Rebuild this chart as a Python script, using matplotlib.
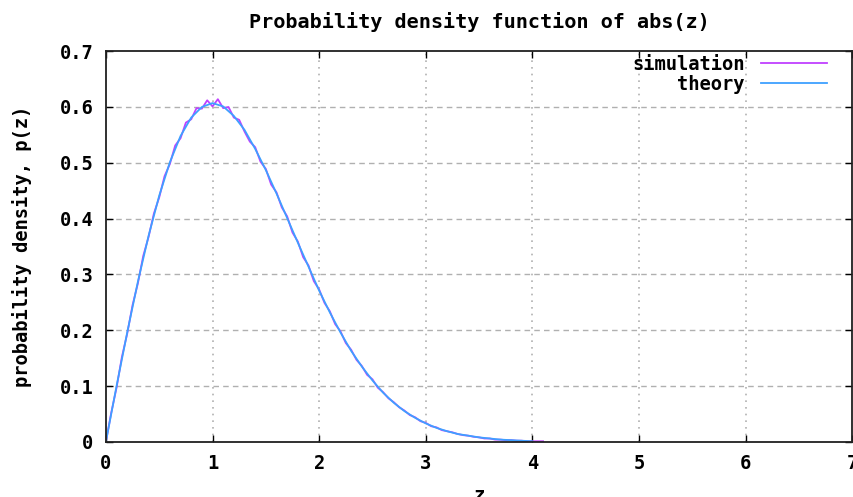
import matplotlib
matplotlib.use("Agg")
import matplotlib.pyplot as plt

# theory curve, step 0.1
z_theory = [0.0, 0.1, 0.2, 0.3, 0.4, 0.5, 0.6, 0.7, 0.8, 0.9, 1.0,
            1.1, 1.2, 1.3, 1.4, 1.5, 1.6, 1.7, 1.8, 1.9, 2.0,
            2.1, 2.2, 2.3, 2.4, 2.5, 2.6, 2.7, 2.8, 2.9, 3.0,
            3.1, 3.2, 3.3, 3.4, 3.5, 3.6, 3.7, 3.8, 3.9, 4.0]
p_theory = [0.0, 0.100, 0.196, 0.287, 0.369, 0.441, 0.501, 0.548, 0.581, 0.600, 0.607,
            0.601, 0.584, 0.559, 0.525, 0.487, 0.445, 0.401, 0.357, 0.314, 0.271,
            0.232, 0.196, 0.163, 0.135, 0.110, 0.088, 0.070, 0.055, 0.043, 0.033,
            0.025, 0.019, 0.014, 0.011, 0.008, 0.006, 0.004, 0.003, 0.002, 0.001]

# simulation histogram, step 0.05 (noisy)
z_sim = [0.00, 0.05, 0.10, 0.15, 0.20, 0.25, 0.30, 0.35, 0.40, 0.45,
         0.50, 0.55, 0.60, 0.65, 0.70, 0.75, 0.80, 0.85, 0.90, 0.95,
         1.00, 1.05, 1.10, 1.15, 1.20, 1.25, 1.30, 1.35, 1.40, 1.45,
         1.50, 1.55, 1.60, 1.65, 1.70, 1.75, 1.80, 1.85, 1.90, 1.95,
         2.00, 2.05, 2.10, 2.15, 2.20, 2.25, 2.30, 2.35, 2.40, 2.45,
         2.50, 2.55, 2.60, 2.65, 2.70, 2.75, 2.80, 2.85, 2.90, 2.95,
         3.00, 3.05, 3.10, 3.15, 3.20, 3.25, 3.30, 3.35, 3.40, 3.45,
         3.50, 3.55, 3.60, 3.65, 3.70, 3.75, 3.80, 3.85, 3.90, 3.95,
         4.00, 4.05, 4.10]
p_sim = [0.000, 0.052, 0.097, 0.152, 0.194, 0.245, 0.284, 0.333, 0.367, 0.409,
         0.438, 0.476, 0.498, 0.531, 0.544, 0.572, 0.578, 0.598, 0.597, 0.612,
         0.601, 0.614, 0.598, 0.600, 0.581, 0.577, 0.556, 0.538, 0.528, 0.502,
         0.489, 0.461, 0.447, 0.420, 0.404, 0.375, 0.359, 0.331, 0.316, 0.288,
         0.273, 0.249, 0.234, 0.211, 0.198, 0.177, 0.165, 0.147, 0.136, 0.120,
         0.112, 0.097, 0.089, 0.078, 0.071, 0.062, 0.056, 0.048, 0.044, 0.037,
         0.034, 0.028, 0.026, 0.021, 0.019, 0.017, 0.014, 0.012, 0.011, 0.009,
         0.008, 0.006, 0.006, 0.004, 0.004, 0.003, 0.003, 0.002, 0.002, 0.001,
         0.001, 0.001, 0.001]

xticks = [0, 1, 2, 3, 4, 5, 6, 7]
yticks = [0, 0.1, 0.2, 0.3, 0.4, 0.5, 0.6, 0.7]
ytick_labels = ["0", "0.1", "0.2", "0.3", "0.4", "0.5", "0.6", "0.7"]

plt.rcParams['font.family'] = ['DejaVu Sans Mono']
plt.rcParams['font.weight'] = 'bold'

fig = plt.figure(figsize=(8.54, 4.97), dpi=100)
ax = fig.add_axes([0.124, 0.111, 0.874, 0.786])

ax.plot(z_sim, p_sim, color='#c040ff', lw=1.3, label='simulation')
ax.plot(z_theory, p_theory, color='#3ea0ff', lw=1.3, label='theory')

ax.set_xlim(0, 7)
ax.set_ylim(0, 0.7)
ax.set_xticks(xticks)
ax.set_yticks(yticks)
ax.set_yticklabels(ytick_labels)
ax.tick_params(direction='in', top=True, right=True, length=5, width=1,
               labelsize=13.5, pad=9)
for lbl in ax.get_xticklabels() + ax.get_yticklabels():
    lbl.set_fontweight('bold')

for y in yticks[1:-1]:
    ax.axhline(y, color='#b0b0b0', lw=1, dashes=(4, 3), zorder=0)
for x in xticks[1:-1]:
    ax.axvline(x, color='#b0b0b0', lw=1.2, dashes=(1, 3), zorder=0)

for sp in ax.spines.values():
    sp.set_linewidth(1.3)
    sp.set_color('#202020')

ax.set_title('Probability density function of abs(z)', fontsize=14.5,
             fontweight='bold', pad=17)
ax.set_ylabel('probability density, p(z)', fontsize=13.5, fontweight='bold',
              labelpad=20)
ax.set_xlabel('z', fontsize=13.5, fontweight='bold', labelpad=9)

leg = fig.legend(loc='upper right', frameon=False, markerfirst=False,
                 handlelength=3.5, handletextpad=0.9,
                 borderpad=0, borderaxespad=0, labelspacing=0.05,
                 bbox_to_anchor=(827 / 854, 1 - 55 / 497),
                 prop={'weight': 'bold', 'size': 13.5})

fig.savefig('out.png', dpi=100)
